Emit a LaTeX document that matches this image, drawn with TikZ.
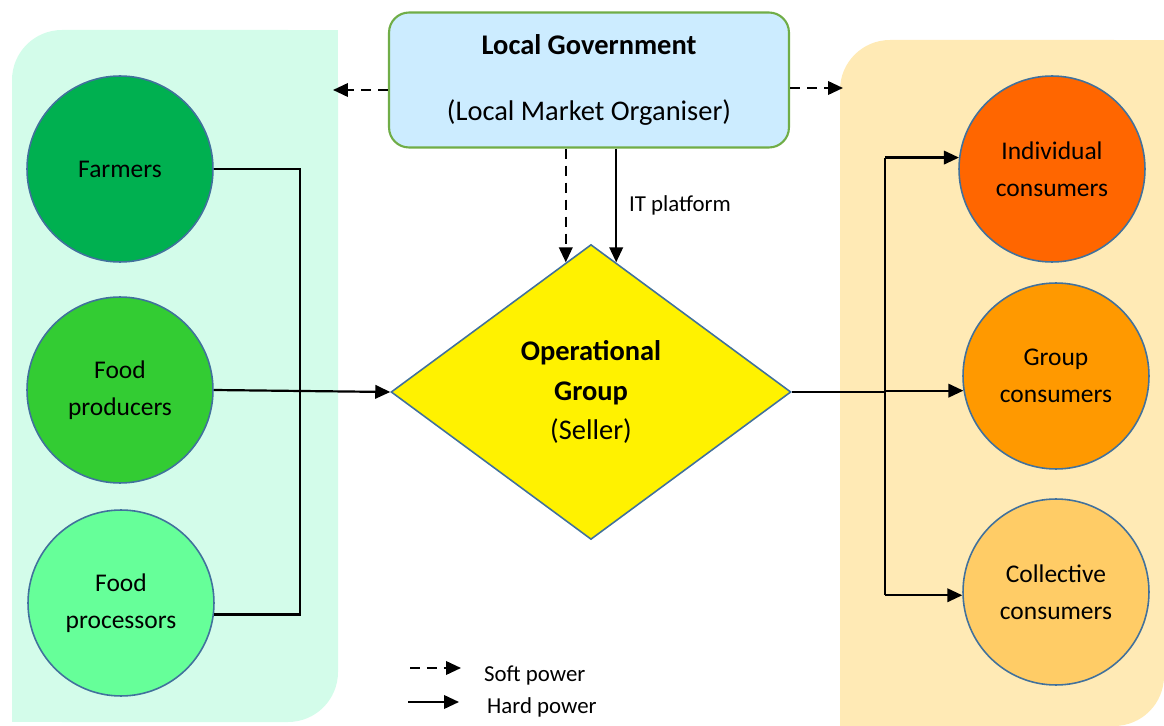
\documentclass[tikz,border=0pt]{standalone}
\usepackage{fontspec}
\setmainfont{Carlito}
\usetikzlibrary{shapes.geometric,arrows.meta}
\definecolor{leftbg}{HTML}{D3FCEA}
\definecolor{rightbg}{HTML}{FFEAB5}
\definecolor{govblue}{HTML}{CCECFF}
\definecolor{govgreen}{HTML}{70AD47}
\definecolor{edgeblue}{HTML}{41719C}
\definecolor{farmgreen}{HTML}{00B050}
\definecolor{prodgreen}{HTML}{33CC33}
\definecolor{procgreen}{HTML}{66FF99}
\definecolor{indivorange}{HTML}{FF6600}
\definecolor{grouporange}{HTML}{FF9900}
\definecolor{collorange}{HTML}{FFCC66}
\begin{document}
\begin{tikzpicture}[x=0.02cm, y=-0.02cm,
		actor/.style={draw=edgeblue, line width=0.9pt, circle, minimum size=3.72cm, inner sep=0pt, align=center, font=\fontsize{14.5}{21}\selectfont},
		hard/.style={line width=1.25pt, -{Triangle[length=3mm,width=2.7mm]}},
		soft/.style={hard, dash pattern=on 2mm off 1.4mm},
		bus/.style={line width=1.25pt},
		small/.style={font=\fontsize{13}{15}\selectfont}]
		\useasboundingbox (0,0) rectangle (1164,726);
		\fill[leftbg, rounded corners=1cm] (12,30) rectangle (338,722);
		\fill[leftbg] (200,30) rectangle (338,200);
		\fill[leftbg] (12,600) rectangle (150,722);
		\fill[rightbg, rounded corners=1cm] (840,40) rectangle (1164,726);
		\fill[rightbg] (1000,40) rectangle (1164,200);
		\fill[rightbg] (840,600) rectangle (1000,726);
		\node[draw=govgreen, line width=1.2pt, fill=govblue, rounded corners=0.4cm, minimum width=8cm, minimum height=2.7cm, align=center, font=\fontsize{16.2}{19}\selectfont] (gov) at (589,80) {\textbf{Local Government}\\[19pt](Local Market Organiser)};
		\node[diamond, draw=edgeblue, line width=0.9pt, fill=yellow, minimum width=8cm, minimum height=5.9cm, inner sep=0pt, align=center, font=\fontsize{16.2}{22.7}\selectfont] (opg) at (591,392) {\textbf{Operational}\\\textbf{Group}\\(Seller)};
		\node[actor, fill=farmgreen] (farm) at (120,169) {Farmers};
		\node[actor, fill=prodgreen] (prod) at (120,390) {Food\\producers};
		\node[actor, fill=procgreen] (proc) at (121,603) {Food\\processors};
		\node[actor, fill=indivorange] (indiv) at (1052,169) {Individual\\consumers};
		\node[actor, fill=grouporange] (grp) at (1056,376) {Group\\consumers};
		\node[actor, fill=collorange] (coll) at (1056,592) {Collective\\consumers};
		\coordinate (lbus) at (300,390);
		\coordinate (rbus) at (885,390);
		\coordinate (softL) at (333,90);
		\coordinate (softR) at (843,88);
		\draw[bus] (farm.east) -- (farm.east -| lbus) -- (proc.353 -| lbus) -- (proc.353);
		\draw[hard] (prod.east) -- (opg.west);
		\draw[bus] (opg.east) -- (opg.east -| rbus);
		\draw[bus] (rbus |- indiv.173) -- (rbus |- coll.182);
		\draw[hard] (rbus |- indiv.173) -- (indiv.173);
		\draw[hard] (rbus |- grp.189) -- (grp.189);
		\draw[hard] (rbus |- coll.182) -- (coll.182);
		\draw[soft] (gov.west |- softL) -- (softL);
		\draw[soft] (gov.east |- softR) -- (softR);
		\draw[soft] (gov.south -| opg.101.5) -- (opg.101.5);
		\draw[hard] (gov.south -| opg.79.5) -- node[right=1.2mm, small] {IT platform} (opg.79.5);
		\node[small, anchor=west] (softlbl) at (478,676) {Soft power};
		\node[small, anchor=west] (hardlbl) at (481,707) {Hard power};
		\coordinate (softA) at (410,668);
		\coordinate (softB) at (461,668);
		\coordinate (hardA) at (408,702);
		\coordinate (hardB) at (459,702);
		\draw[soft] (softA) -- (softB);
		\draw[hard] (hardA) -- (hardB);
	\end{tikzpicture}
\end{document}
